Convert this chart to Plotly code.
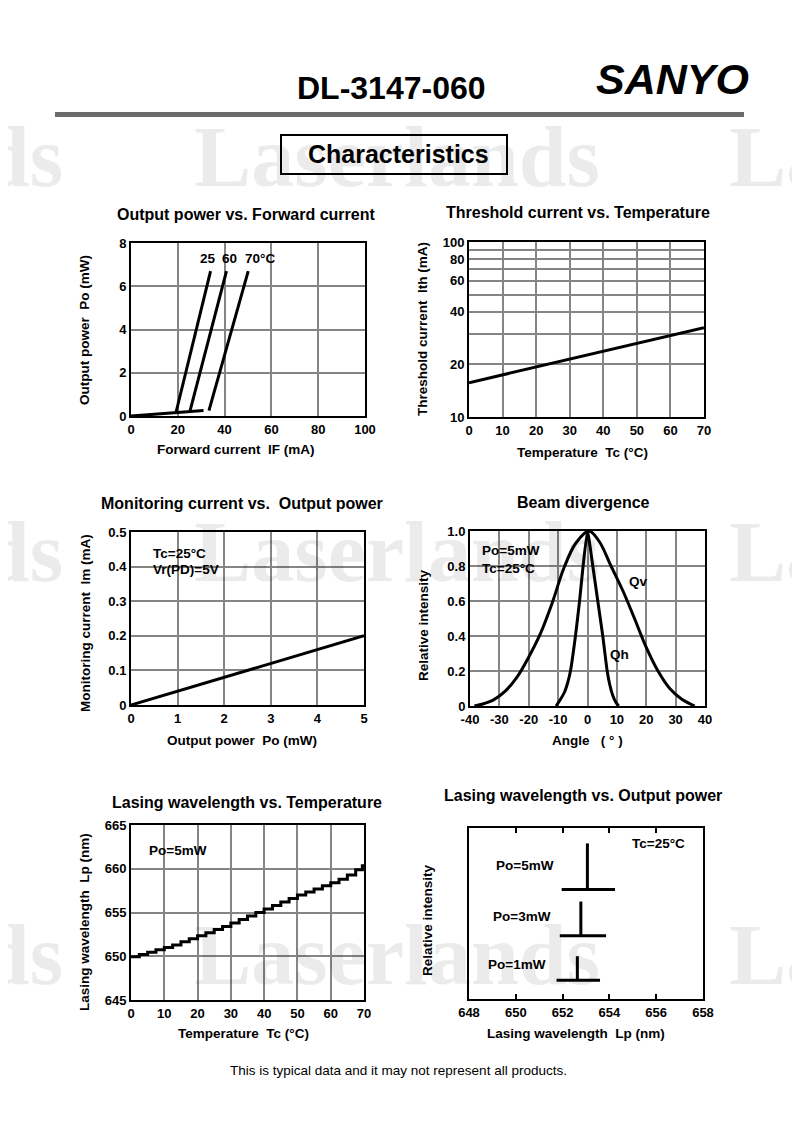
import plotly.graph_objects as go

W, H = 800, 1132
OX, OY = 8, 8  # the page body margin shifts the figure by this much
FONT = "Liberation Sans, Arial, sans-serif"

# ---- values ----
# Output power vs. forward current
if_sub = [0, 31]
po_sub = [0, 0.25]
if_25 = [19.2, 34.0]
po_25 = [0.15, 6.7]
if_60 = [25.2, 40.8]
po_60 = [0.22, 6.7]
if_70 = [33.3, 50.1]
po_70 = [0.25, 6.7]
temp_labels = ["25", "60", "70°C"]
temp_label_x = [32.9, 42.2, 55.0]

# Threshold current vs. temperature
tc_th = [0, 10, 20, 30, 40, 50, 60, 70]
ith = [15.7, 17.4, 19.3, 21.4, 23.6, 26.2, 29.1, 32.4]

# Monitoring current vs. output power
po_mon = [0, 5]
im_mon = [0, 0.2]

# Beam divergence
qv_angle = [-38.5, -36, -32, -28, -24, -20, -16, -12, -8, -4, 0.5, 4, 8, 12, 16, 20, 24, 28, 32, 36.5]
qv_int = [0.0, 0.01, 0.035, 0.085, 0.165, 0.28, 0.415, 0.59, 0.79, 0.93, 1.0,
          0.94, 0.8, 0.66, 0.5, 0.335, 0.2, 0.1, 0.04, 0.0]
qh_angle = [-10.7, -9.5, -7.8, -6.8, -5.8, -4.1, -2.7, -1.5, 0, 1.8, 3.5, 5.2, 6.7, 7.6, 8.6, 9.7, 10.6]
qh_int = [0.0, 0.03, 0.08, 0.13, 0.2, 0.4, 0.6, 0.8, 1.0, 0.8, 0.6, 0.4, 0.2, 0.12, 0.06, 0.02, 0.0]
angle_ticks = [-40, -30, -20, -10, 0, 10, 20, 30, 40]
angle_text = ["-40", "-30", "-20", "-10", "0", "10", "20", "30", "40"]

# Lasing wavelength vs. temperature (stepped trace)
tc_lp = [0, 2.5, 5, 7.5, 10, 12.5, 15, 17.5, 20, 22.5, 25, 27.5, 30, 32.5, 35, 37.5, 40,
         42.5, 45, 47.5, 50, 52.5, 55, 57.5, 60, 62.5, 65, 67.5, 69.5, 70]
lp = [649.95, 650.2, 650.45, 650.75, 651.0, 651.3, 651.65, 652.0, 652.35, 652.7, 653.05,
      653.4, 653.8, 654.2, 654.6, 655.0, 655.4, 655.8, 656.2, 656.6, 657.0, 657.35, 657.7,
      658.05, 658.4, 658.8, 659.3, 659.9, 660.35, 660.35]

# Lasing wavelength vs. output power (spectra)
spec_labels = ["Po=5mW", "Po=3mW", "Po=1mW"]
spec_peak = [653.06, 652.78, 652.63]
spec_top = [0.91, 0.57, 0.25]
spec_base = [0.64, 0.37, 0.11]
spec_left = [651.96, 651.88, 651.74]
spec_right = [654.24, 653.86, 653.6]
spec_label_x = [651.7, 651.58, 651.38]
spec_label_y = [0.78, 0.485, 0.2]

# background watermark rows/columns (page pixels)
wm_x = [-140, 397, 932]
wm_y = [164, 559, 962]


def px(x):
    return (x - OX) / W


def py(y):
    return 1 - (y - OY) / H


def dx(a, b):
    return [px(a), px(b)]


def dy(top, bottom):
    return [py(bottom), py(top)]


def axis(domain, rng, tickvals, ticktext=None, anchor=None, grid=True, **kw):
    d = dict(domain=domain, range=rng, tickvals=tickvals, anchor=anchor,
             showline=True, mirror=True, linecolor="black", linewidth=2,
             showgrid=grid, gridcolor="#858585", gridwidth=1.5, zeroline=False,
             ticks="", fixedrange=True, automargin=False,
             tickfont=dict(family=FONT, size=13, color="black", weight="bold"))
    if ticktext is not None:
        d["ticktext"] = ticktext
    d.update(kw)
    return d


fig = go.Figure()
line = dict(color="black", width=3)

# panel 1
for xs, ys in [(if_sub, po_sub), (if_25, po_25), (if_60, po_60), (if_70, po_70)]:
    fig.add_trace(go.Scatter(x=xs, y=ys, mode="lines", line=line, xaxis="x", yaxis="y"))
# panel 2
fig.add_trace(go.Scatter(x=tc_th, y=ith, mode="lines", line=line, xaxis="x2", yaxis="y2"))
# panel 3
fig.add_trace(go.Scatter(x=po_mon, y=im_mon, mode="lines", line=line, xaxis="x3", yaxis="y3"))
# panel 4
fig.add_trace(go.Scatter(x=qv_angle, y=qv_int, mode="lines",
                         line=dict(color="black", width=3, shape="spline", smoothing=1.0),
                         xaxis="x4", yaxis="y4"))
fig.add_trace(go.Scatter(x=qh_angle, y=qh_int, mode="lines",
                         line=dict(color="black", width=3, shape="spline", smoothing=0.4),
                         xaxis="x4", yaxis="y4"))
# panel 5
fig.add_trace(go.Scatter(x=tc_lp, y=lp, mode="lines", line=dict(color="black", width=3, shape="hv"),
                         xaxis="x5", yaxis="y5"))
# panel 6
for pk, tp, bs, lf, rt in zip(spec_peak, spec_top, spec_base, spec_left, spec_right):
    fig.add_trace(go.Scatter(x=[pk, pk], y=[tp, bs], mode="lines", line=line, xaxis="x6", yaxis="y6"))
    fig.add_trace(go.Scatter(x=[lf, rt], y=[bs, bs], mode="lines", line=line, xaxis="x6", yaxis="y6"))

# watermark on a hidden full-page axis (in page pixels), clipped at the page edge
wx = [x for y in wm_y for x in wm_x]
wy = [y for y in wm_y for x in wm_x]
fig.add_trace(go.Scatter(x=wx, y=wy, mode="text", text=["Laserlands"] * len(wx),
                         textfont=dict(family="Liberation Serif, serif", size=86,
                                       color="rgba(0,0,0,0.08)", weight="bold"),
                         hoverinfo="skip", cliponaxis=True, xaxis="x7", yaxis="y7"))

fig.update_layout(
    template="none",
    width=W, height=H, autosize=False, showlegend=False,
    margin=dict(l=0, r=0, t=0, b=0, pad=0),
    paper_bgcolor="white", plot_bgcolor="rgba(0,0,0,0)",
    font=dict(family=FONT, color="black"),
    xaxis=axis(dx(131, 365), [0, 100], [0, 20, 40, 60, 80, 100], anchor="y"),
    yaxis=axis(dy(243, 416), [0, 8], [0, 2, 4, 6, 8], anchor="x"),
    xaxis2=axis(dx(469, 704), [0, 70], list(range(0, 71, 10)), anchor="y2"),
    yaxis2=axis(dy(242, 417), [1, 2], [10, 20, 30, 40, 50, 60, 70, 80, 90, 100],
                ["10", "20", "", "40", "", "60", "", "80", "", "100"], anchor="x2", type="log"),
    xaxis3=axis(dx(131, 364), [0, 5], [0, 1, 2, 3, 4, 5], anchor="y3"),
    yaxis3=axis(dy(532, 705), [0, 0.5], [0, 0.1, 0.2, 0.3, 0.4, 0.5],
                ["0", "0.1", "0.2", "0.3", "0.4", "0.5"], anchor="x3"),
    xaxis4=axis(dx(470, 705), [-40, 40], angle_ticks, angle_text, anchor="y4"),
    yaxis4=axis(dy(531, 706), [0, 1], [0, 0.2, 0.4, 0.6, 0.8, 1.0],
                ["0", "0.2", "0.4", "0.6", "0.8", "1.0"], anchor="x4"),
    xaxis5=axis(dx(131, 364), [0, 70], list(range(0, 71, 10)), anchor="y5"),
    yaxis5=axis(dy(825, 1000), [645, 665], [645, 650, 655, 660, 665], anchor="x5"),
    xaxis6=axis(dx(469, 703), [648, 658], [648, 650, 652, 654, 656, 658], anchor="y6", grid=False,
                ticks="inside", ticklen=5, tickwidth=2, tickcolor="black", mirror="ticks"),
    yaxis6=axis(dy(828, 999), [0, 1], [], anchor="x6", grid=False, showticklabels=False),
    xaxis7=dict(domain=[0, 1], range=[OX, W + OX], visible=False, fixedrange=True, anchor="y7",
                automargin=False),
    yaxis7=dict(domain=[0, 1], range=[H + OY, OY], visible=False, fixedrange=True, anchor="x7",
                automargin=False),
)

ann = []


def text(x, y, s, size=13.5, xref="paper", yref="paper", weight="bold", **kw):
    if xref == "paper":
        x = px(x)
    if yref == "paper":
        y = py(y)
    d = dict(x=x, y=y, xref=xref, yref=yref, text=s, showarrow=False,
             xanchor="center", yanchor="middle",
             font=dict(family=FONT, size=size, color="black", weight=weight))
    d.update(kw)
    ann.append(d)


# header
text(391, 88, "DL-3147-060", size=32)
text(672, 79, "<i>SANYO</i>", size=43)
text(398, 154, "Characteristics", size=25)
text(398, 1070, "This is typical data and it may not represent all products.", size=13.5, weight="normal")

# panel titles
for x, y, s in [(246, 215, "Output power vs. Forward current"),
                (578, 213, "Threshold current vs. Temperature"),
                (242, 503, "Monitoring current vs.  Output power"),
                (583, 502, "Beam divergence"),
                (247, 802, "Lasing wavelength vs. Temperature"),
                (583, 795, "Lasing wavelength vs. Output power")]:
    text(x, y, s, size=16)

# axis titles
for x, y, s in [(236, 449, "Forward current  IF (mA)"),
                (582, 452, "Temperature  Tc (°C)"),
                (242, 740, "Output power  Po (mW)"),
                (587, 740, "Angle   ( ° )"),
                (243, 1033, "Temperature  Tc (°C)"),
                (576, 1033, "Lasing wavelength  Lp (nm)")]:
    text(x, y, s)
for x, y, s in [(84, 330, "Output power  Po (mW)"),
                (422, 329, "Threshold current  Ith (mA)"),
                (85, 623, "Monitoring current  Im (mA)"),
                (423, 625, "Relative intensity"),
                (84, 922, "Lasing wavelength  Lp (nm)"),
                (427, 920, "Relative intensity")]:
    text(x, y, s, textangle=-90)

# in-plot labels
for s, x in zip(temp_labels, temp_label_x):
    text(x, 7.3, s, xref="x", yref="y")
text(0.42, 0.439, "Tc=25°C", xref="x3", yref="y3", xanchor="left")
text(0.42, 0.391, "Vr(PD)=5V", xref="x3", yref="y3", xanchor="left")
text(-36.5, 0.886, "Po=5mW", xref="x4", yref="y4", xanchor="left")
text(-36.5, 0.785, "Tc=25°C", xref="x4", yref="y4", xanchor="left")
text(17.2, 0.709, "Qv", xref="x4", yref="y4")
text(10.9, 0.295, "Qh", xref="x4", yref="y4")
text(4.8, 662.1, "Po=5mW", xref="x5", yref="y5", xanchor="left")
for s, x, y in zip(spec_labels, spec_label_x, spec_label_y):
    text(x, y, s, xref="x6", yref="y6", xanchor="right")
text(656.1, 0.909, "Tc=25°C", xref="x6", yref="y6")

fig.update_layout(annotations=ann)

fig.update_layout(shapes=[
    dict(type="rect", xref="paper", yref="paper", x0=px(55), x1=px(744), y0=py(117), y1=py(112),
         fillcolor="#6a6a6a", line=dict(width=0)),
    dict(type="rect", xref="paper", yref="paper", x0=px(281), x1=px(507), y0=py(174), y1=py(135),
         line=dict(color="black", width=2)),
])

fig.write_html("out.html")
